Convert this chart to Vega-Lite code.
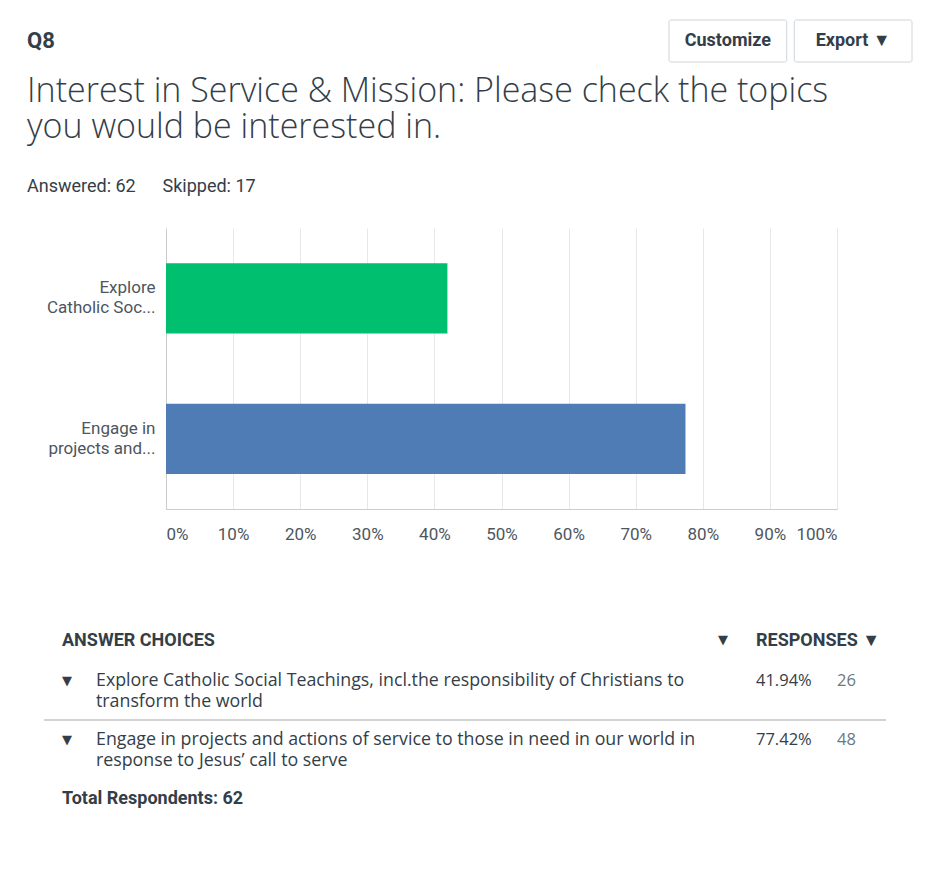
{
  "$schema": "https://vega.github.io/schema/vega-lite/v6.json",
  "background": "white",
  "padding": {"left": 27, "top": 19, "right": 5, "bottom": 5},
  "config": {"view": {"stroke": null}},
  "datasets": {
    "choices": [
      {"row": 1, "short": "Explore\nCatholic Soc...", "choice": "Explore Catholic Social Teachings, incl.the responsibility of Christians to\ntransform the world", "pct": 0.4194, "count": 26},
      {"row": 2, "short": "Engage in\nprojects and...", "choice": "Engage in projects and actions of service to those in need in our world in\nresponse to Jesus’ call to serve", "pct": 0.7742, "count": 48}
    ]
  },
  "spacing": 12,
  "vconcat": [
    {
      "spacing": 0,
      "hconcat": [
        {
          "width": 641, "height": 42,
          "data": {"values": [{"q": "Q8"}]},
          "mark": {"type": "text", "align": "left", "baseline": "middle", "font": "Roboto", "fontSize": 22, "fontWeight": "bold", "color": "#333e48"},
          "encoding": {
            "x": {"datum": "q", "type": "nominal", "scale": {"type": "band", "paddingInner": 0, "paddingOuter": 0}, "bandPosition": 0, "axis": null},
            "text": {"field": "q"}
          }
        },
        {
          "width": 243, "height": 42,
          "data": {"values": [{"b": "Customize"}, {"b": "Export ▼"}]},
          "layer": [
            {
              "mark": {"type": "rect", "fill": "white", "stroke": "#cfd4d8", "strokeWidth": 1, "cornerRadius": 2},
              "encoding": {"x": {"field": "b", "type": "nominal", "sort": null, "scale": {"type": "band", "paddingInner": 0.06, "paddingOuter": 0}, "axis": null}}
            },
            {
              "mark": {"type": "text", "font": "Roboto", "fontSize": 18, "fontWeight": "bold", "color": "#333e48"},
              "encoding": {
                "x": {"field": "b", "type": "nominal", "sort": null, "scale": {"type": "band", "paddingInner": 0.06, "paddingOuter": 0}, "axis": null},
                "text": {"field": "b"}
              }
            }
          ]
        }
      ]
    },
    {
      "spacing": 60,
      "vconcat": [
        {
          "spacing": 0,
          "bounds": "flush",
          "hconcat": [
            {
              "width": 139, "height": 281,
              "data": {"values": [{}]},
              "mark": {"type": "text"},
              "encoding": {"text": {"value": ""}}
            },
            {
              "width": 671, "height": 281,
              "title": {
                "text": ["Interest in Service & Mission: Please check the topics", "you would be interested in."],
                "subtitle": "Answered: 62\u00a0\u00a0\u00a0\u00a0\u00a0\u00a0Skipped: 17",
                "anchor": "start", "frame": "group", "dx": -139,
                "font": "Open Sans", "fontWeight": 300, "fontSize": 34, "lineHeight": 36, "color": "#333e48",
                "subtitleFont": "Roboto", "subtitleFontSize": 18, "subtitleColor": "#333e48", "subtitlePadding": 33,
                "offset": 32
              },
              "data": {"name": "choices"},
              "mark": {"type": "bar", "height": {"band": 1}},
              "encoding": {
                "y": {
                  "field": "short", "type": "nominal", "sort": null,
                  "scale": {"paddingInner": 0.5, "paddingOuter": 0.25},
                  "axis": {"title": null, "labelExpr": "split(datum.label, '\\n')", "labelFont": "Roboto", "labelFontSize": 17, "labelLineHeight": 20, "labelOffset": -10, "labelColor": "#4d565e", "labelPadding": 11, "labelLimit": 200, "ticks": false, "domainColor": "#cccccc"}
                },
                "x": {
                  "field": "pct", "type": "quantitative", "stack": null,
                  "scale": {"domain": [0, 1]},
                  "axis": {"title": null, "values": [0, 0.1, 0.2, 0.3, 0.4, 0.5, 0.6, 0.7, 0.8, 0.9, 1], "format": ".0%", "labelFlush": true, "grid": true, "gridColor": "#e8e8e8", "ticks": false, "domainColor": "#cccccc", "labelFont": "Roboto", "labelFontSize": 17, "labelPadding": 17, "labelColor": "#4d565e"}
                },
                "color": {"field": "short", "type": "nominal", "scale": {"domain": ["Explore\nCatholic Soc...", "Engage in\nprojects and..."], "range": ["#00BF6F", "#507CB6"]}, "legend": null}
              }
            }
          ]
        },
        {
          "spacing": 0,
          "bounds": "flush",
          "hconcat": [
            {
              "width": 17, "height": 236,
              "data": {"values": [{}]},
              "mark": {"type": "text"},
              "encoding": {"text": {"value": ""}}
            },
            {
              "width": 18, "height": 236,
              "data": {"values": [{"row": 2}]},
              "mark": {"type": "rule", "color": "#d3d3d3", "strokeWidth": 2},
              "encoding": {"y": {"field": "row", "type": "ordinal", "bandPosition": 0, "scale": {"type": "band", "domain": [0, 1, 2, 3], "paddingInner": 0, "paddingOuter": 0}, "axis": null}}
            },
            {
              "width": 34, "height": 236,
              "layer": [
                {
                  "data": {"name": "choices"},
                  "mark": {"type": "text", "align": "left", "baseline": "middle", "font": "DejaVu Sans", "fontSize": 13, "color": "#333e48", "dy": -10},
                  "encoding": {
                    "x": {"datum": "c", "type": "nominal", "scale": {"type": "band", "paddingInner": 0, "paddingOuter": 0}, "bandPosition": 0, "axis": null},
                    "y": {"field": "row", "type": "ordinal", "scale": {"type": "band", "domain": [0, 1, 2, 3], "paddingInner": 0, "paddingOuter": 0}, "axis": null},
                    "text": {"value": "▼"}
                  }
                },
                {
                  "data": {"values": [{"row": 0, "t": "ANSWER CHOICES"}]},
                  "mark": {"type": "text", "align": "left", "baseline": "middle", "font": "Roboto", "fontSize": 18, "fontWeight": "bold", "color": "#333e48", "dy": 9},
                  "encoding": {
                    "x": {"datum": "c", "type": "nominal", "scale": {"type": "band", "paddingInner": 0, "paddingOuter": 0}, "bandPosition": 0, "axis": null},
                    "y": {"field": "row", "type": "ordinal", "scale": {"type": "band", "domain": [0, 1, 2, 3], "paddingInner": 0, "paddingOuter": 0}, "axis": null},
                    "text": {"field": "t"}
                  }
                },
                {
                  "data": {"values": [{"row": 3, "t": "Total Respondents: 62"}]},
                  "mark": {"type": "text", "align": "left", "baseline": "middle", "font": "Roboto", "fontSize": 18, "fontWeight": "bold", "color": "#333e48", "dy": -10},
                  "encoding": {
                    "x": {"datum": "c", "type": "nominal", "scale": {"type": "band", "paddingInner": 0, "paddingOuter": 0}, "bandPosition": 0, "axis": null},
                    "y": {"field": "row", "type": "ordinal", "scale": {"type": "band", "domain": [0, 1, 2, 3], "paddingInner": 0, "paddingOuter": 0}, "axis": null},
                    "text": {"field": "t"}
                  }
                },
                {
                  "data": {"values": [{"row": 2}]},
                  "mark": {"type": "rule", "color": "#d3d3d3", "strokeWidth": 2},
                  "encoding": {"y": {"field": "row", "type": "ordinal", "bandPosition": 0, "scale": {"type": "band", "domain": [0, 1, 2, 3], "paddingInner": 0, "paddingOuter": 0}, "axis": null}}
                }
              ]
            },
            {
              "width": 622, "height": 236,
              "layer": [
                {
                  "data": {"name": "choices"},
                  "mark": {"type": "text", "align": "left", "baseline": "middle", "font": "Open Sans", "fontSize": 17.8, "lineHeight": 21, "lineBreak": "\n", "color": "#333e48", "dy": -10},
                  "encoding": {
                    "x": {"datum": "c", "type": "nominal", "scale": {"type": "band", "paddingInner": 0, "paddingOuter": 0}, "bandPosition": 0, "axis": null},
                    "y": {"field": "row", "type": "ordinal", "scale": {"type": "band", "domain": [0, 1, 2, 3], "paddingInner": 0, "paddingOuter": 0}, "axis": null},
                    "text": {"field": "choice"}
                  }
                },
                {
                  "data": {"values": [{"row": 2}]},
                  "mark": {"type": "rule", "color": "#d3d3d3", "strokeWidth": 2},
                  "encoding": {"y": {"field": "row", "type": "ordinal", "bandPosition": 0, "scale": {"type": "band", "domain": [0, 1, 2, 3], "paddingInner": 0, "paddingOuter": 0}, "axis": null}}
                }
              ]
            },
            {
              "width": 38, "height": 236,
              "layer": [
                {
                  "data": {"values": [{"row": 0, "t": "▼"}]},
                  "mark": {"type": "text", "align": "left", "baseline": "middle", "font": "DejaVu Sans", "fontSize": 13, "color": "#333e48", "dy": 8},
                  "encoding": {
                    "x": {"datum": "c", "type": "nominal", "scale": {"type": "band", "paddingInner": 0, "paddingOuter": 0}, "bandPosition": 0, "axis": null},
                    "y": {"field": "row", "type": "ordinal", "scale": {"type": "band", "domain": [0, 1, 2, 3], "paddingInner": 0, "paddingOuter": 0}, "axis": null},
                    "text": {"field": "t"}
                  }
                },
                {
                  "data": {"values": [{"row": 2}]},
                  "mark": {"type": "rule", "color": "#d3d3d3", "strokeWidth": 2},
                  "encoding": {"y": {"field": "row", "type": "ordinal", "bandPosition": 0, "scale": {"type": "band", "domain": [0, 1, 2, 3], "paddingInner": 0, "paddingOuter": 0}, "axis": null}}
                }
              ]
            },
            {
              "width": 81, "height": 236,
              "layer": [
                {
                  "data": {"name": "choices"},
                  "mark": {"type": "text", "align": "left", "baseline": "middle", "font": "Open Sans", "fontSize": 16.5, "color": "#333e48", "dy": -10},
                  "encoding": {
                    "x": {"datum": "c", "type": "nominal", "scale": {"type": "band", "paddingInner": 0, "paddingOuter": 0}, "bandPosition": 0, "axis": null},
                    "y": {"field": "row", "type": "ordinal", "scale": {"type": "band", "domain": [0, 1, 2, 3], "paddingInner": 0, "paddingOuter": 0}, "axis": null},
                    "text": {"field": "pct", "format": ".2%"}
                  }
                },
                {
                  "data": {"values": [{"row": 0, "t": "RESPONSES ▼"}]},
                  "mark": {"type": "text", "align": "left", "baseline": "middle", "font": "Roboto", "fontSize": 18, "fontWeight": "bold", "color": "#333e48", "dy": 9},
                  "encoding": {
                    "x": {"datum": "c", "type": "nominal", "scale": {"type": "band", "paddingInner": 0, "paddingOuter": 0}, "bandPosition": 0, "axis": null},
                    "y": {"field": "row", "type": "ordinal", "scale": {"type": "band", "domain": [0, 1, 2, 3], "paddingInner": 0, "paddingOuter": 0}, "axis": null},
                    "text": {"field": "t"}
                  }
                },
                {
                  "data": {"values": [{"row": 2}]},
                  "mark": {"type": "rule", "color": "#d3d3d3", "strokeWidth": 2},
                  "encoding": {"y": {"field": "row", "type": "ordinal", "bandPosition": 0, "scale": {"type": "band", "domain": [0, 1, 2, 3], "paddingInner": 0, "paddingOuter": 0}, "axis": null}}
                }
              ]
            },
            {
              "width": 49, "height": 236,
              "layer": [
                {
                  "data": {"name": "choices"},
                  "mark": {"type": "text", "align": "left", "baseline": "middle", "font": "Open Sans", "fontSize": 16.5, "color": "#6b787f", "dy": -10},
                  "encoding": {
                    "x": {"datum": "c", "type": "nominal", "scale": {"type": "band", "paddingInner": 0, "paddingOuter": 0}, "bandPosition": 0, "axis": null},
                    "y": {"field": "row", "type": "ordinal", "scale": {"type": "band", "domain": [0, 1, 2, 3], "paddingInner": 0, "paddingOuter": 0}, "axis": null},
                    "text": {"field": "count"}
                  }
                },
                {
                  "data": {"values": [{"row": 2}]},
                  "mark": {"type": "rule", "color": "#d3d3d3", "strokeWidth": 2},
                  "encoding": {"y": {"field": "row", "type": "ordinal", "bandPosition": 0, "scale": {"type": "band", "domain": [0, 1, 2, 3], "paddingInner": 0, "paddingOuter": 0}, "axis": null}}
                }
              ]
            }
          ]
        }
      ]
    }
  ]
}
